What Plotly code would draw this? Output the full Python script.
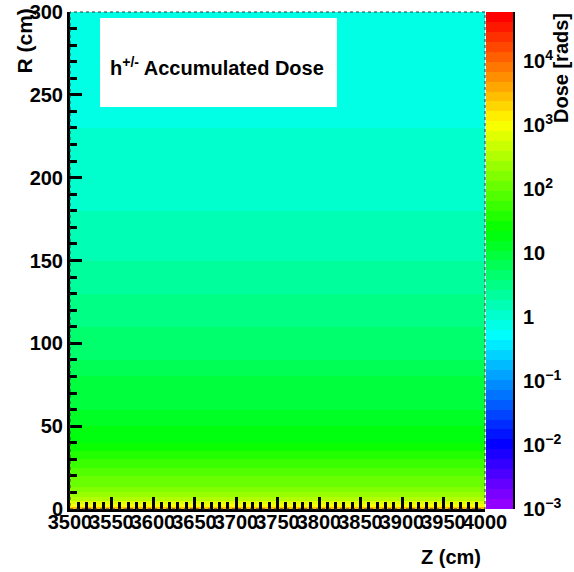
import colorsys
import math
import plotly.graph_objects as go

# ---------------- data ----------------
z_edges = [3500, 4000]  # Z (cm) bin edges
r_edges = [0, 1.5, 3, 5, 7, 10, 13, 16, 20, 25, 30, 35, 40, 45, 50, 55, 60, 70, 80, 90,
           100, 110, 120, 130, 140, 150, 160, 170, 180, 190, 200, 215, 230, 250, 270, 300]
dose_rads = [3000, 1100, 600, 380, 260, 180, 130, 95, 70, 50, 35, 27, 21, 17, 14, 12, 10, 8, 6.5, 5.2,
             4.3, 3.6, 3.0, 2.5, 2.1, 1.8, 1.6, 1.4, 1.25, 1.15, 1.05, 0.95, 0.88, 0.85, 0.8]
x_ticks = [3500, 3550, 3600, 3650, 3700, 3750, 3800, 3850, 3900, 3950, 4000]
y_ticks = [0, 50, 100, 150, 200, 250, 300]
cb_tickvals = [-3, -2, -1, 0, 1, 2, 3, 4]
cb_ticktext = ["10<sup>\u22123</sup>", "10<sup>\u22122</sup>", "10<sup>\u22121</sup>", "1", "10",
               "10<sup>2</sup>", "10<sup>3</sup>", "10<sup>4</sup>"]
z_min_log, z_max_log = -3.0, 4.77

# ---------------- styling ----------------
W, H = 574, 572
L, R_px, T, B = 70, 40, 12, 63
plot_w = W - L - R_px           # paper width in px
frame_right = 485
frame_w = frame_right - L
dom_x = frame_w / plot_w
plot_h = H - T - B

def px_x(px):
    return (px - L) / plot_w

def px_y(py):
    return (H - B - py) / plot_h

# ROOT "pretty" palette: 50 colours, hue 280 -> 0
n_col = 50
colorscale = []
for i in range(n_col):
    hue = 280 - (i + 1) * (280.0 / n_col)
    r, g, b = colorsys.hls_to_rgb(hue / 360.0, 0.5, 1.0)
    c = "rgb(%d,%d,%d)" % (round(r * 255), round(g * 255), round(b * 255))
    colorscale.append([i / n_col, c])
    colorscale.append([(i + 1) / n_col, c])

zvals = [[math.log10(v)] for v in dose_rads]

font_family = "Liberation Sans, Arial, sans-serif"
bold = dict(family=font_family, size=20, color="black", weight="bold")

fig = go.Figure()
fig.add_trace(go.Heatmap(
    x=z_edges, y=r_edges, z=zvals,
    zmin=z_min_log, zmax=z_max_log,
    colorscale=colorscale,
    hoverinfo="skip",
    colorbar=dict(
        thickness=27, thicknessmode="pixels",
        len=1, lenmode="fraction", y=0.5, yanchor="middle",
        x=px_x(486), xanchor="left", xpad=0, ypad=0,
        outlinewidth=0, showticklabels=False, ticks="",
    ),
))

minor_vals = []
for d in range(-3, 5):
    for k in range(2, 10):
        v = math.log10(k) + d
        if v <= z_max_log:
            minor_vals.append(v)

fig.update_layout(
    width=W, height=H,
    margin=dict(l=L, r=R_px, t=T, b=B, pad=0, autoexpand=False),
    paper_bgcolor="white", plot_bgcolor="white",
    showlegend=False,
    xaxis=dict(
        domain=[0, dom_x], range=[3500, 4000], showgrid=False, zeroline=False,
        showline=True, linecolor="black", linewidth=3, automargin=False,
        tickmode="array", tickvals=x_ticks, ticktext=[str(t) for t in x_ticks],
        tickangle=0,
        ticks="inside", ticklen=12, tickwidth=2.5, tickcolor="black",
        minor=dict(tickmode="linear", tick0=3500, dtick=10, ticks="inside", ticklen=7,
                   tickwidth=2.5, tickcolor="black"),
        tickfont=bold, ticklabelstandoff=-7,
    ),
    yaxis=dict(
        range=[0, 300], showgrid=False, zeroline=False, automargin=False,
        showline=True, linecolor="black", linewidth=3,
        tickmode="array", tickvals=y_ticks, ticktext=[str(t) for t in y_ticks],
        ticks="inside", ticklen=12, tickwidth=2.5, tickcolor="black",
        minor=dict(tickmode="linear", tick0=0, dtick=10, ticks="inside", ticklen=7,
                   tickwidth=2.5, tickcolor="black"),
        tickfont=bold, ticklabelstandoff=0,
    ),
    yaxis2=dict(
        overlaying="y", anchor="free", position=px_x(513), side="right",
        range=[z_min_log, z_max_log], showgrid=False, zeroline=False, automargin=False,
        showline=True, linecolor="black", linewidth=3,
        tickmode="array", tickvals=cb_tickvals, ticktext=cb_ticktext,
        ticks="inside", ticklen=9, tickwidth=2.5, tickcolor="black",
        minor=dict(tickmode="array", tickvals=minor_vals, ticks="inside", ticklen=5,
                   tickwidth=2, tickcolor="black"),
        tickfont=bold, ticklabelstandoff=4,
    ),
)

# invisible trace to activate yaxis2
fig.add_trace(go.Scatter(x=[3500], y=[0], yaxis="y2", mode="markers",
                         marker=dict(opacity=0), hoverinfo="skip", showlegend=False))

# frame (top/right thin border)
fig.add_shape(type="rect", xref="paper", yref="paper", x0=0, x1=dom_x, y0=0, y1=1,
              line=dict(color="#333333", width=1, dash="dot"), fillcolor="rgba(0,0,0,0)",
              layer="above")
# legend box
fig.add_shape(type="rect", xref="paper", yref="paper",
              x0=px_x(100), x1=px_x(337), y0=px_y(107), y1=px_y(18),
              line=dict(width=0), fillcolor="white", layer="above")

fig.add_annotation(xref="paper", yref="paper", x=px_x(217), y=px_y(67),
                   text="h<sup>+/-</sup> Accumulated Dose", showarrow=False,
                   font=dict(family=font_family, size=20, color="black", weight="bold"),
                   xanchor="center", yanchor="middle")
fig.add_annotation(xref="paper", yref="paper", x=px_x(483), y=px_y(557),
                   text="Z (cm)", showarrow=False, font=bold,
                   xanchor="right", yanchor="middle")
fig.add_annotation(xref="paper", yref="paper", x=px_x(24), y=px_y(7),
                   text="R (cm)", showarrow=False, font=dict(bold, size=21), textangle=-90,
                   xanchor="center", yanchor="top")
fig.add_annotation(xref="paper", yref="paper", x=px_x(561), y=px_y(11),
                   text="Dose [rads]", showarrow=False, font=bold, textangle=-90,
                   xanchor="center", yanchor="top")

fig.write_html("out.html")
